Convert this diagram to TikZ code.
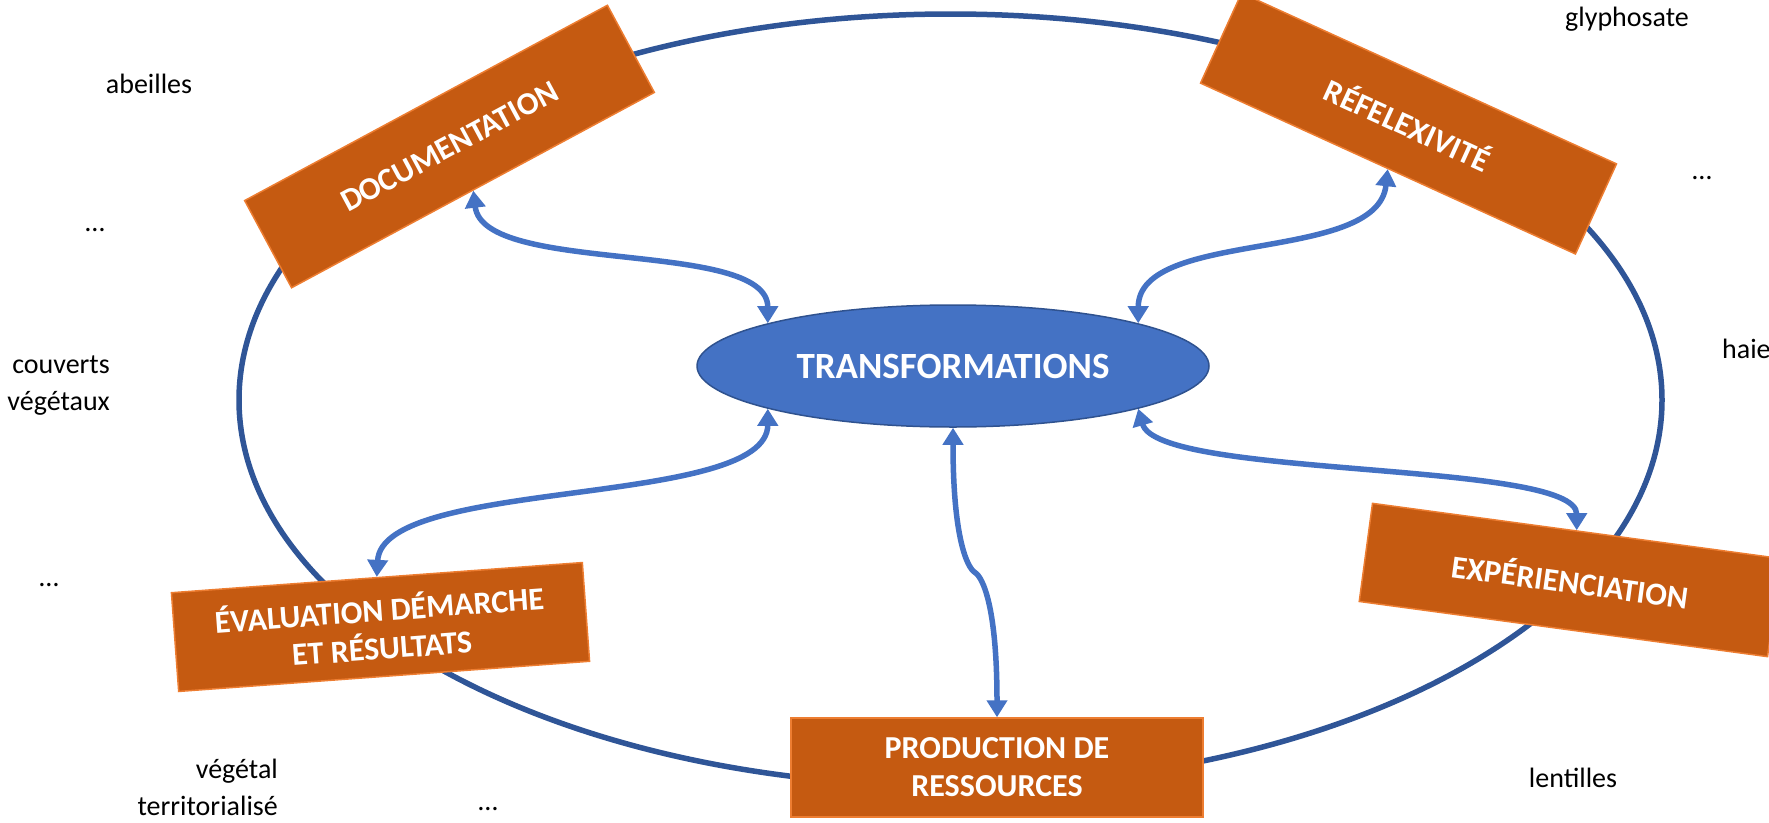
\documentclass[tikz,border=0pt]{standalone}
\usepackage{fontspec}
\setmainfont{Carlito}
\usepackage{xcolor}
\usetikzlibrary{shapes,arrows.meta,positioning,calc}
\definecolor{boxfill}{HTML}{C55A11}
\definecolor{boxline}{HTML}{ED7D31}
\definecolor{ringblue}{HTML}{2F5597}
\definecolor{linkblue}{HTML}{4472C4}
\definecolor{ovalline}{HTML}{2F528F}

\begin{document}
\begin{tikzpicture}[x=1pt, y=-1pt,
    phase/.style={rectangle, draw=boxline, fill=boxfill, line width=1.5pt, minimum width=412pt, minimum height=99pt, inner sep=0pt, text=white, align=center, font=\fontsize{32}{38}\selectfont\bfseries},
    word/.style={inner sep=0pt, font=\fontsize{28}{37}\selectfont},
    link/.style={draw=linkblue, line width=5.5pt, <->},
    >={Triangle[length=17pt,width=20pt]}]
    \useasboundingbox (0,0) rectangle (1769,822);

    % Cycle
    \draw[ringblue, line width=5.5pt] (950.5,400) ellipse [x radius=711.5pt, y radius=386pt];

    % Phases
    \node[phase, rotate=28.3] (doc) at (449.5,146.5) {DOCUMENTATION};
    \node[phase, rotate=-24.5] (refl) at (1408.5,123.5) {RÉFELEXIVITÉ};
    \node[phase, rotate=4.2] (eval) at (380.5,627) {ÉVALUATION DÉMARCHE\\ET RÉSULTATS};
    \node[phase, rotate=-7.7] (exper) at (1570,580) {EXPÉRIENCIATION};
    \node[phase] (prod) at (997,767.5) {PRODUCTION DE\\RESSOURCES};

    % Centre
    \node[ellipse, draw=ovalline, fill=linkblue, line width=1.5pt, minimum width=512pt, minimum height=122pt, inner sep=0pt, text=white, font=\fontsize{37}{44}\selectfont\bfseries] (tr) at (953,366) {TRANSFORMATIONS};

    % Links
    \draw[link] (doc.south) .. controls +(10,85) and +(0,-85) .. (tr.167);
    \draw[link] (refl.south) .. controls +(-10,95) and +(0,-95) .. (tr.13);
    \draw[link] (eval.north) .. controls +(5,-100) and +(0,100) .. (tr.193);
    \draw[link] (tr.-13) .. controls +(20,70) and +(0,-70) .. (exper.north);
    \draw[link] (tr.south) .. controls +(0,110) and +(-8,-5) .. ($(tr.south)!.5!(prod.north)$)
        .. controls +(8,5) and +(0,-110) .. (prod.north);

    % Words
    \node[word, anchor=base] (w1) at (149,93) {abeilles};
    \node[word, anchor=base] (w2) at (95,231) {…};
    \node[word, anchor=base east, align=right] (w3) at (110,410) {couverts\\végétaux};
    \node[word, anchor=base] (w4) at (49,586) {…};
    \node[word, anchor=base east, align=right] (w5) at (278,815) {végétal\\territorialisé};
    \node[word, anchor=base] (w6) at (488,810) {…};
    \node[word, anchor=base] (w7) at (1573,787) {lentilles};
    \node[word, anchor=base west] (w8) at (1722,358) {haie};
    \node[word, anchor=base] (w9) at (1702,179) {…};
    \node[word, anchor=base] (w10) at (1627,26) {glyphosate};
\end{tikzpicture}
\end{document}
